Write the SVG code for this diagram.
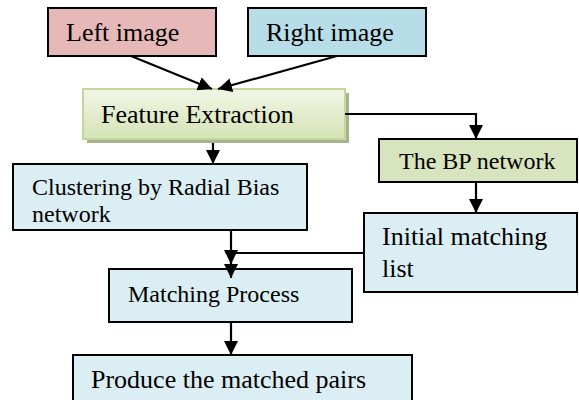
<svg xmlns="http://www.w3.org/2000/svg" width="579" height="400" viewBox="0 0 579 400">
<style>
.box{stroke:#000;stroke-width:2}
.t{font-family:"Liberation Serif","Times New Roman",serif;font-size:26px;fill:#000}
.s{font-size:24px}
.c{fill:none;stroke:#000;stroke-width:2.2}
</style>
<defs>
<marker id="ah" markerUnits="userSpaceOnUse" markerWidth="16" markerHeight="16" refX="14" refY="7" orient="auto">
<path d="M0,0 L14,7 L0,14 z" fill="#000"/>
</marker>
<linearGradient id="fg" x1="0" y1="0" x2="0" y2="1">
<stop offset="0" stop-color="#f1f6e6"/>
<stop offset="1" stop-color="#d5e3b6"/>
</linearGradient>
</defs>
<rect width="579" height="400" fill="#fff"/>
<g id="left-image">
<rect class="box" x="48" y="8" width="168" height="48" fill="#e6b9b8"/>
<text class="t" x="66" y="41">Left image</text>
</g>
<g id="right-image">
<rect class="box" x="248" y="8" width="178" height="48" fill="#b7dee8"/>
<text class="t" x="266" y="41">Right image</text>
</g>
<g id="feature-extraction">
<rect x="87" y="93" width="262" height="50" fill="#a9b38e"/>
<rect x="83" y="89" width="262" height="50" fill="url(#fg)" stroke="#c3d69b" stroke-width="2"/>
<text class="t" x="101" y="123">Feature Extraction</text>
</g>
<g id="bp-network">
<rect class="box" x="379" y="139" width="198" height="43" fill="#d7e4bd"/>
<text class="t s" x="399" y="169">The BP network</text>
</g>
<g id="clustering">
<rect class="box" x="13" y="164" width="294" height="66" fill="#dbeef4"/>
<text class="t s" x="32" y="195">Clustering by Radial Bias</text>
<text class="t s" x="32" y="222">network</text>
</g>
<g id="initial-matching">
<rect class="box" x="364" y="213" width="213" height="79" fill="#dbeef4"/>
<text class="t" x="382" y="245">Initial matching</text>
<text class="t" x="382" y="277">list</text>
</g>
<g id="matching-process">
<rect class="box" x="109" y="269" width="243" height="53" fill="#dbeef4"/>
<text class="t s" x="128" y="302">Matching Process</text>
</g>
<g id="produce-pairs">
<rect class="box" x="73" y="355" width="339" height="60" fill="#dbeef4"/>
<text class="t" x="91" y="388">Produce the matched pairs</text>
</g>
<g id="connectors">
<line class="c" x1="131" y1="56" x2="212" y2="89" marker-end="url(#ah)"/>
<line class="c" x1="337" y1="56" x2="218" y2="89" marker-end="url(#ah)"/>
<polyline class="c" points="345,114 476,114 476,139" marker-end="url(#ah)"/>
<line class="c" x1="213" y1="143" x2="213" y2="164" marker-end="url(#ah)"/>
<line class="c" x1="476" y1="182" x2="476" y2="213" marker-end="url(#ah)"/>
<polyline class="c" points="364,253 231,253 231,264" marker-end="url(#ah)"/>
<line class="c" x1="231" y1="230" x2="231" y2="278" marker-end="url(#ah)"/>
<line class="c" x1="231" y1="322" x2="231" y2="355" marker-end="url(#ah)"/>
</g>
</svg>
